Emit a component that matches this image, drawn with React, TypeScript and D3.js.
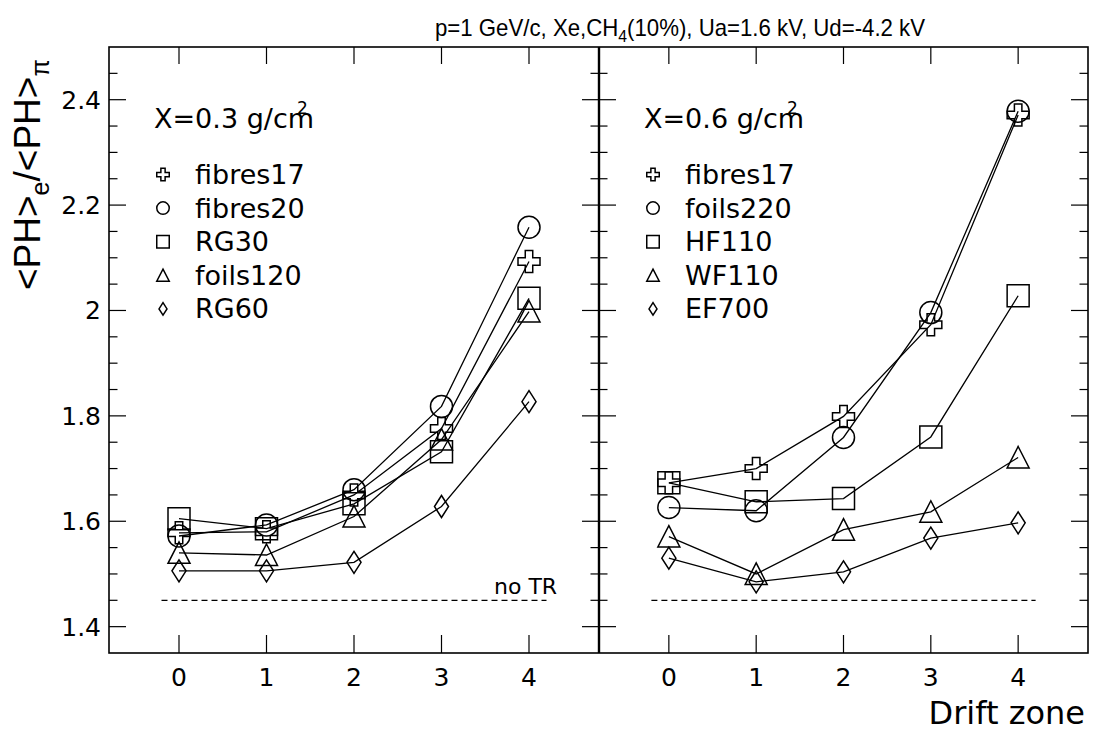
import React from "react";
import * as d3 from "d3";

const zones = [0, 1, 2, 3, 4];
const xTickLabels = ["0", "1", "2", "3", "4"];
const yMajorTicks = [1.4, 1.6, 1.8, 2.0, 2.2, 2.4];
const yTickLabels = ["1.4", "1.6", "1.8", "2", "2.2", "2.4"];

// Left panel, X = 0.3 g/cm2
const leftNames = ["fibres17", "fibres20", "RG30", "foils120", "RG60"];
const L_fibres17 = [1.578, 1.580, 1.650, 1.776, 2.093];
const L_fibres20 = [1.572, 1.593, 1.660, 1.818, 2.158];
const L_RG30 = [1.605, 1.586, 1.633, 1.732, 2.023];
const L_foils120 = [1.540, 1.536, 1.609, 1.755, 1.998];
const L_RG60 = [1.506, 1.506, 1.522, 1.628, 1.827];

// Right panel, X = 0.6 g/cm2
const rightNames = ["fibres17", "foils220", "HF110", "WF110", "EF700"];
const R_fibres17 = [1.673, 1.700, 1.799, 1.973, 2.371];
const R_foils220 = [1.626, 1.620, 1.759, 1.996, 2.378];
const R_HF110 = [1.673, 1.637, 1.643, 1.760, 2.028];
const R_WF110 = [1.571, 1.500, 1.584, 1.618, 1.721];
const R_EF700 = [1.530, 1.485, 1.504, 1.568, 1.597];

const noTR = 1.45;
const markerKinds = ["cross", "circle", "square", "triangle", "diamond"];

const FONT = "DejaVu Sans, Verdana, sans-serif";
const FONT2 = "Liberation Sans, Arial, Helvetica, sans-serif";

function markerPath(kind: string, s: number): string {
  const h = s / 2;
  if (kind === "cross") {
    const a = s * 0.17;
    return `M${-a},${-h}H${a}V${-a}H${h}V${a}H${a}V${h}H${-a}V${a}H${-h}V${-a}H${-a}Z`;
  }
  if (kind === "square") return `M${-h},${-h}H${h}V${h}H${-h}Z`;
  if (kind === "triangle") return `M0,${-h}L${h},${h * 0.95}L${-h},${h * 0.95}Z`;
  if (kind === "diamond") {
    const w = h * 0.64;
    return `M0,${-h}L${w},0L0,${h}L${-w},0Z`;
  }
  return "";
}

function Marker({ kind, x, y, s }: { kind: string; x: number; y: number; s: number }) {
  if (kind === "circle")
    return <circle cx={x} cy={y} r={s / 2} fill="none" stroke="#000" strokeWidth={1.5} />;
  return (
    <path d={markerPath(kind, s)} transform={`translate(${x},${y})`} fill="none" stroke="#000" strokeWidth={1.5} />
  );
}

const left = 109, right = 1088, mid = 599, top = 47, bottom = 653;

export default function App() {
  const y = d3.scaleLinear().domain([1.35, 2.5]).range([bottom, top]);
  const xL = d3.scaleLinear().domain([-0.8, 4.8]).range([left, mid]);
  const xR = d3.scaleLinear().domain([-0.8, 4.8]).range([mid, right]);
  const leftSeries = [L_fibres17, L_fibres20, L_RG30, L_foils120, L_RG60];
  const rightSeries = [R_fibres17, R_foils220, R_HF110, R_WF110, R_EF700];
  const minorTicks = d3.range(1.4, 2.5, 0.05).map((v) => +v.toFixed(2));

  const panel = (
    x: d3.ScaleLinear<number, number>,
    series: number[][],
    names: string[],
    xLabel: string,
    x0: number,
    x1: number,
    legendX: number,
    key: string,
    showNoTR: boolean
  ) => {
    const line = d3
      .line<number>()
      .x((_, i) => x(zones[i]))
      .y((d) => y(d));
    return (
      <g key={key}>
        {minorTicks.map((v) => {
          const major = yMajorTicks.some((m) => Math.abs(m - v) < 1e-6);
          const len = major ? 17 : 8.5;
          return (
            <g key={v}>
              <line x1={x0} x2={x0 + len} y1={y(v)} y2={y(v)} stroke="#000" strokeWidth={1.2} />
              <line x1={x1} x2={x1 - len} y1={y(v)} y2={y(v)} stroke="#000" strokeWidth={1.2} />
            </g>
          );
        })}
        {zones.map((z, i) => (
          <g key={z}>
            <line x1={x(z)} x2={x(z)} y1={bottom} y2={bottom - 18} stroke="#000" strokeWidth={1.2} />
            <line x1={x(z)} x2={x(z)} y1={top} y2={top + 17} stroke="#000" strokeWidth={1.2} />
            <text x={x(z)} y={686} textAnchor="middle" fontSize={25} fontFamily={FONT}>
              {xTickLabels[i]}
            </text>
          </g>
        ))}
        <line
          x1={x(-0.2)}
          x2={x(4.2)}
          y1={y(noTR)}
          y2={y(noTR)}
          stroke="#000"
          strokeWidth={1.3}
          strokeDasharray="6,4"
        />
        {showNoTR && (
          <text x={x(3.6)} y={y(noTR) - 6} fontSize={22} fontFamily={FONT}>
            no TR
          </text>
        )}
        {series.map((s, i) => (
          <path key={"l" + i} d={line(s) || ""} fill="none" stroke="#000" strokeWidth={1.3} />
        ))}
        {series.map((s, i) =>
          s.map((v, j) => <Marker key={`m${i}-${j}`} kind={markerKinds[i]} x={x(zones[j])} y={y(v)} s={22} />)
        )}
        <text x={legendX - 9} y={128} fontSize={27} fontFamily={FONT}>
          {xLabel}
        </text>
        <text x={legendX + 134} y={114} fontSize={17} fontFamily={FONT}>
          2
        </text>
        {names.map((n, i) => {
          const cy = 174.5 + i * 33.6;
          return (
            <g key={n}>
              <Marker kind={markerKinds[i]} x={legendX} y={cy} s={12.5} />
              <text x={legendX + 32} y={cy + 9.5} fontSize={27} fontFamily={FONT}>
                {n}
              </text>
            </g>
          );
        })}
      </g>
    );
  };

  return (
    <svg width={1106} height={740} style={{ position: "absolute", left: 0, top: 0, background: "#fff" }}>
      <rect x={0} y={0} width={1106} height={740} fill="#fff" />
      {panel(xL, leftSeries, leftNames, "X=0.3 g/cm", left, mid, 163, "L", true)}
      {panel(xR, rightSeries, rightNames, "X=0.6 g/cm", mid, right, 653, "R", false)}
      <rect x={left} y={top} width={right - left} height={bottom - top} fill="none" stroke="#000" strokeWidth={1.6} />
      <line x1={mid} x2={mid} y1={top} y2={bottom} stroke="#000" strokeWidth={2.4} />
      {yMajorTicks.map((v, i) => (
        <text key={v} x={101} y={y(v) + 9} textAnchor="end" fontSize={25} fontFamily={FONT}>
          {yTickLabels[i]}
        </text>
      ))}
      <text
        x={435}
        y={36}
        fontSize={24}
        fontFamily={FONT2}
        textLength={490}
        lengthAdjust="spacingAndGlyphs"
      >
        p=1 GeV/c, Xe,CH
        <tspan dy={6} fontSize={17}>4</tspan>
        <tspan dy={-6}>(10%), Ua=1.6 kV, Ud=-4.2 kV</tspan>
      </text>
      <text transform={`translate(40,290) rotate(-90)`} fontSize={37} fontFamily={FONT2}>
        {"<PH>"}
        <tspan dy={9} fontSize={25}>e</tspan>
        <tspan dy={-9}>{"/<PH>"}</tspan>
        <tspan dy={9} fontSize={25}>π</tspan>
      </text>
      <text x={1085} y={724} textAnchor="end" fontSize={32} fontFamily={FONT}>
        Drift zone
      </text>
    </svg>
  );
}
